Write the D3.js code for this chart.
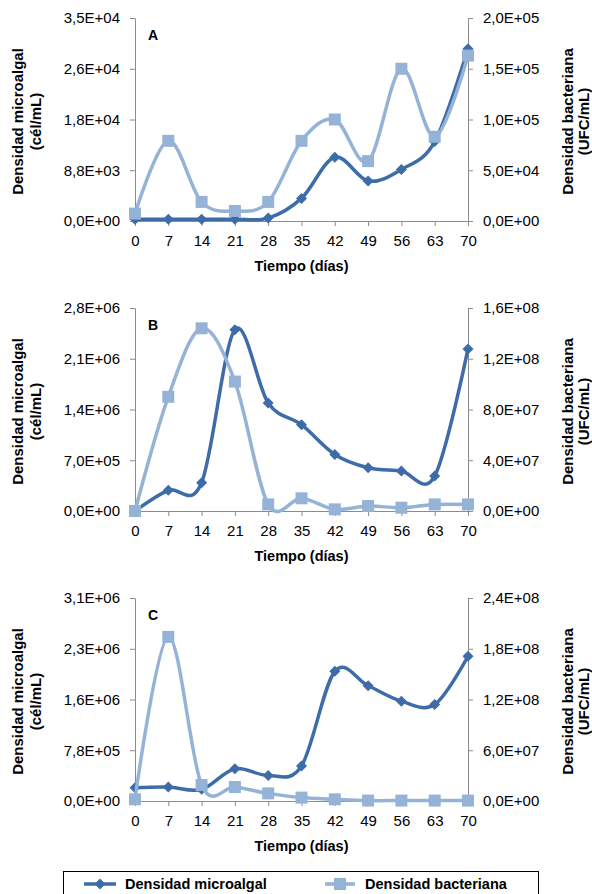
<!DOCTYPE html>
<html>
<head>
<meta charset="utf-8">
<script src="https://cdn.jsdelivr.net/npm/d3@7"></script>
<style>
  body { margin: 0; background: #fff; }
  svg { display: block; font-family: "Liberation Sans", Arial, sans-serif; }
</style>
</head>
<body>
<div id="chart"></div>
<script>
// dias de muestreo
var days = [0, 7, 14, 21, 28, 35, 42, 49, 56, 63, 70]
var panelNames = ['A', 'B', 'C']

// densidad microalgal (cel/mL), eje izquierdo
var algaA = [300, 300, 300, 300, 500, 3900, 11000, 6900, 8900, 13700, 29700]
var algaB = [0, 285000, 390000, 2500000, 1490000, 1190000, 780000, 597000, 551000, 482000, 2235000]
var algaC = [203000, 213000, 178000, 493000, 391000, 534000, 1980000, 1760000, 1525000, 1474000, 2210000]

// densidad bacteriana (UFC/mL), eje derecho
var bactA = [7300, 79000, 18800, 9900, 18800, 79000, 100000, 59000, 150000, 83000, 163000]
var bactB = [0, 90000000, 144000000, 102000000, 5200000, 10000000, 1300000, 3900000, 2600000, 5200000, 5200000]
var bactC = [2000000, 194000000, 19000000, 16500000, 9000000, 4000000, 2000000, 500000, 500000, 500000, 500000]

// maximos de los ejes
var leftMax = [35000, 2800000, 3100000]
var rightMax = [200000, 160000000, 240000000]

var algaSeries = [algaA, algaB, algaC]
var bactSeries = [bactA, bactB, bactC]

var colorAlga = '#3d6ca8'
var colorBact = '#95b3d7'
var axisColor = '#8c8c8c'

var svg = d3.select('#chart').append('svg')
  .attr('width', 592)
  .attr('height', 894)

var marginL = 135
var plotW = 333
var plotH = 203
var panelTop = [18, 308, 598]

function sciFmt(v) {
  var s = v.toExponential(1)
  var parts = s.split('e')
  var exp = parseInt(parts[1])
  var sign = exp < 0 ? '-' : '+'
  var e = Math.abs(exp)
  return parts[0].replace('.', ',') + 'E' + sign + (e < 10 ? '0' + e : e)
}

function diamond(g, x, y) {
  var r = 5.5
  g.append('path')
    .attr('d', 'M' + x + ',' + (y - r) + 'L' + (x + r) + ',' + y + 'L' + x + ',' + (y + r) + 'L' + (x - r) + ',' + y + 'Z')
    .attr('fill', colorAlga)
}
function square(g, x, y) {
  var s = 12
  g.append('rect')
    .attr('x', x - s / 2).attr('y', y - s / 2)
    .attr('width', s).attr('height', s)
    .attr('fill', colorBact)
}

function drawPanel(i) {
  var g = svg.append('g').attr('transform', 'translate(' + marginL + ',' + panelTop[i] + ')')
  var x = d3.scaleLinear().domain([0, 70]).range([0, plotW])
  var yL = d3.scaleLinear().domain([0, leftMax[i]]).range([plotH, 0])
  var yR = d3.scaleLinear().domain([0, rightMax[i]]).range([plotH, 0])

  var ticksL = d3.range(5).map(function(k) { return leftMax[i] * k / 4 })
  var ticksR = d3.range(5).map(function(k) { return rightMax[i] * k / 4 })

  var xaxis = g.append('g').attr('transform', 'translate(0,' + plotH + ')')
    .call(d3.axisBottom(x).tickValues(days).tickSize(5).tickPadding(9).tickSizeOuter(0))
  var yaxis = g.append('g')
    .call(d3.axisLeft(yL).tickValues(ticksL).tickFormat(sciFmt).tickSize(5).tickPadding(10).tickSizeOuter(0))
  var yaxis2 = g.append('g').attr('transform', 'translate(' + plotW + ',0)')
    .call(d3.axisRight(yR).tickValues(ticksR).tickFormat(sciFmt).tickSize(5).tickPadding(10).tickSizeOuter(0))

  ;[xaxis, yaxis, yaxis2].forEach(function(a) {
    a.select('.domain').attr('stroke', axisColor)
    a.selectAll('.tick line').attr('stroke', axisColor)
    a.selectAll('.tick text').attr('fill', '#000').style('font-size', '15px')
      .style('font-family', '"Liberation Sans", Arial, sans-serif')
  })

  g.append('text')
    .attr('x', 13).attr('y', 22)
    .attr('font-weight', 'bold').attr('font-size', 14)
    .text(panelNames[i])

  g.append('text')
    .attr('x', plotW / 2).attr('y', plotH + 50)
    .attr('text-anchor', 'middle')
    .attr('font-weight', 'bold').attr('font-size', 14.5)
    .text('Tiempo (días)')

  var cy = plotH / 2 + 2
  var lt = g.append('text')
    .attr('transform', 'translate(' + (-112) + ',' + cy + ') rotate(-90)')
    .attr('text-anchor', 'middle')
    .attr('font-weight', 'bold').attr('font-size', 15)
  lt.append('tspan').attr('x', 0).attr('y', 0).text('Densidad microalgal')
  lt.append('tspan').attr('x', 0).attr('y', 18).text('(cél/mL)')

  // titulo derecho, algo mas a la izquierda para que no se corte
  var rt = g.append('text')
    .attr('transform', 'translate(' + (plotW + 105) + ',' + cy + ') rotate(-90)')
    .attr('text-anchor', 'middle')
    .attr('font-weight', 'bold').attr('font-size', 15)
  rt.append('tspan').attr('x', 0).attr('y', 0).text('Densidad bacteriana')
  rt.append('tspan').attr('x', 0).attr('y', 15.5).text('(UFC/mL)')

  var lineL = d3.line()
    .x(function(d, k) { return x(days[k]) })
    .y(function(d) { return yL(d) })
    .curve(d3.curveCardinal.tension(0))
  var lineR = d3.line()
    .x(function(d, k) { return x(days[k]) })
    .y(function(d) { return yR(d) })
    .curve(d3.curveCardinal.tension(0))

  g.append('path').datum(algaSeries[i])
    .attr('d', lineL).attr('fill', 'none')
    .attr('stroke', colorAlga).attr('stroke-width', 3.5)
  algaSeries[i].forEach(function(d, k) { diamond(g, x(days[k]), yL(d)) })

  g.append('path').datum(bactSeries[i])
    .attr('d', lineR).attr('fill', 'none')
    .attr('stroke', colorBact).attr('stroke-width', 3.5)
  bactSeries[i].forEach(function(d, k) { square(g, x(days[k]), yR(d)) })
}

for (var p = 0; p < 3; p++) drawPanel(p)

// leyenda
var leg = svg.append('g')
leg.append('rect')
  .attr('x', 63.5).attr('y', 871.5)
  .attr('width', 475).attr('height', 40)
  .attr('fill', '#fff').attr('stroke', '#000').attr('stroke-width', 1)
leg.append('line').attr('x1', 84).attr('x2', 116).attr('y1', 884).attr('y2', 884)
  .attr('stroke', colorAlga).attr('stroke-width', 3.5)
diamond(leg, 100, 884)
leg.append('text').attr('x', 125).attr('y', 889)
  .attr('font-weight', 'bold').attr('font-size', 14.5)
  .text('Densidad microalgal')
leg.append('line').attr('x1', 325).attr('x2', 355).attr('y1', 884).attr('y2', 884)
  .attr('stroke', colorBact).attr('stroke-width', 3.5)
square(leg, 340, 884)
leg.append('text').attr('x', 365).attr('y', 889)
  .attr('font-weight', 'bold').attr('font-size', 14.5)
  .text('Densidad bacteriana')
</script>
</body>
</html>
